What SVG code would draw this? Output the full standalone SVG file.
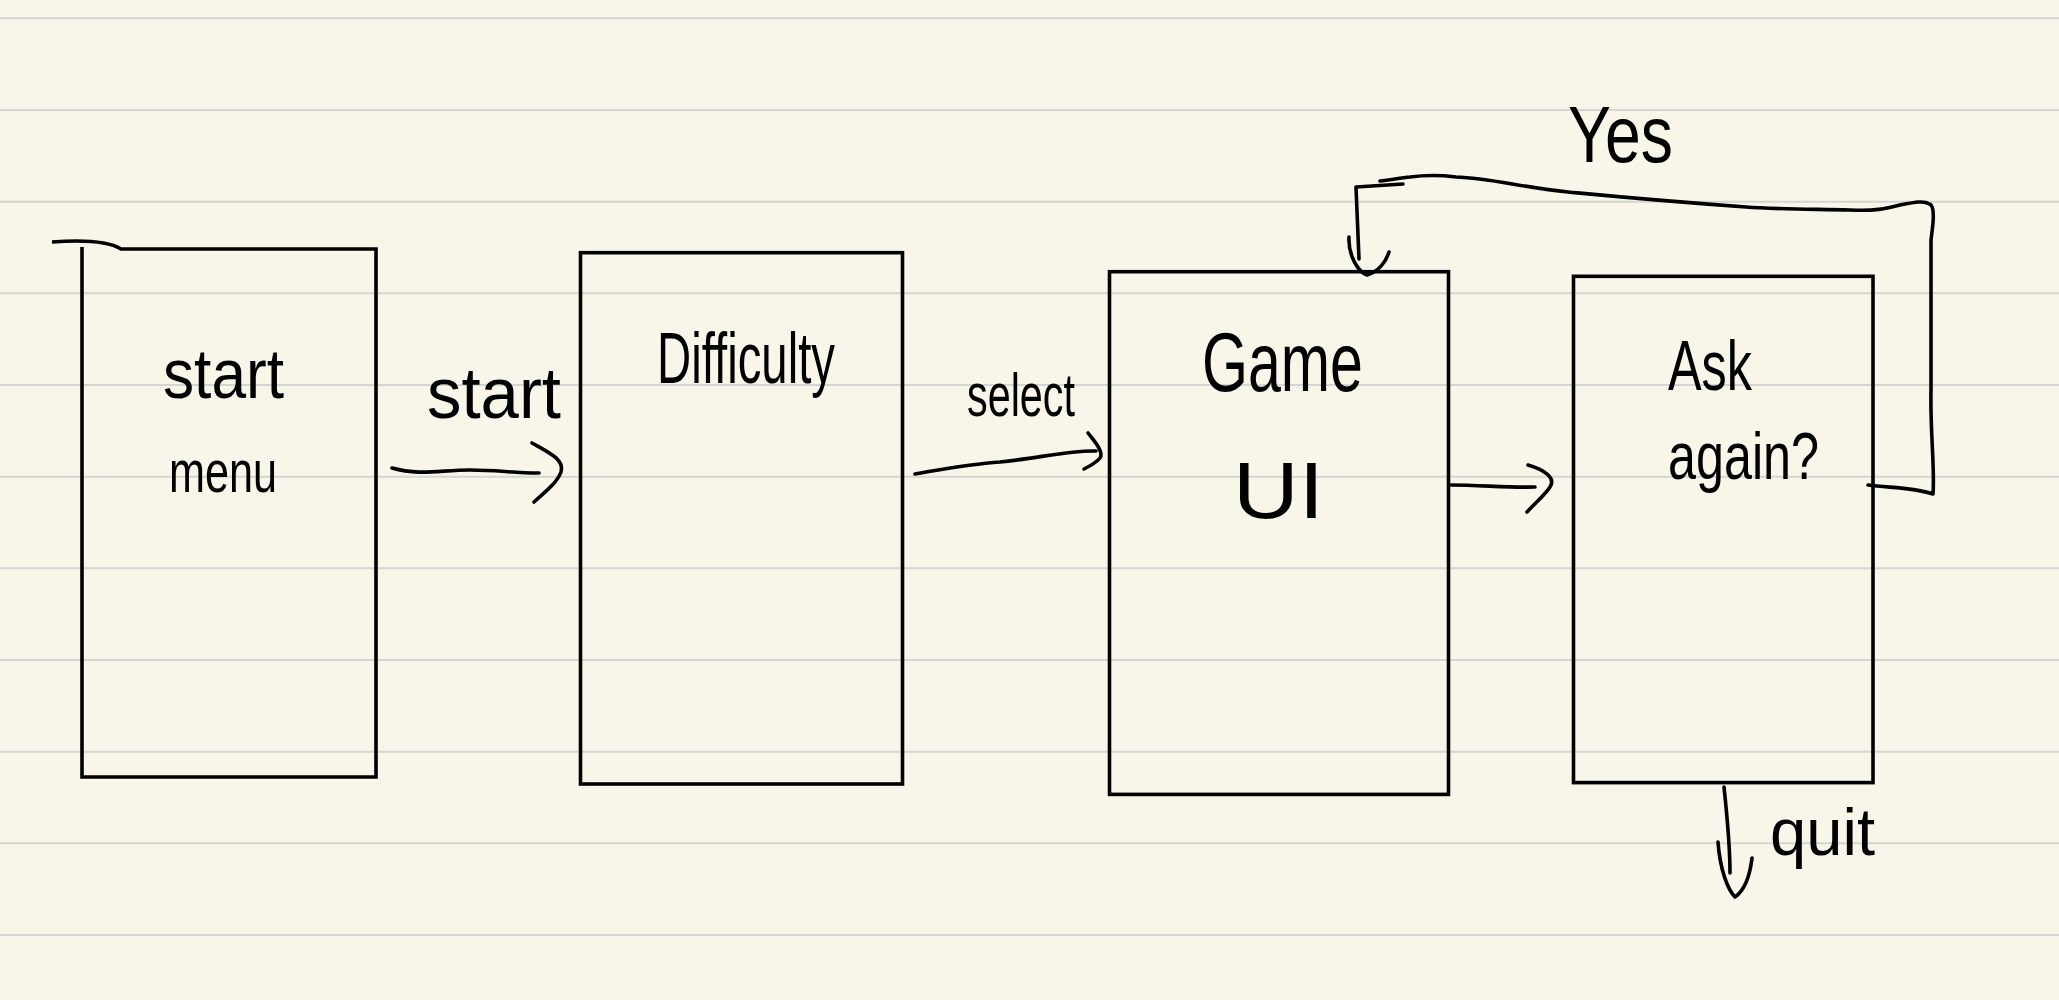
<svg xmlns="http://www.w3.org/2000/svg" width="2059" height="1000" viewBox="0 0 2059 1000">
<defs>
<style>
.rule{stroke:#d5d5d1;stroke-width:2}
.box{fill:none;stroke:#000;stroke-width:3.6;stroke-linejoin:miter}
.ink{fill:none;stroke:#000;stroke-width:3.6;stroke-linecap:round;stroke-linejoin:round}
.t{font-family:"Liberation Sans","DejaVu Sans",sans-serif;fill:#000;font-weight:normal}
</style>
</defs>
<rect x="0" y="0" width="2059" height="1000" fill="#f8f6e9"/>
<g id="paper-lines">
<line class="rule" x1="0" y1="18.3" x2="2059" y2="18.3"/>
<line class="rule" x1="0" y1="110" x2="2059" y2="110"/>
<line class="rule" x1="0" y1="201.7" x2="2059" y2="201.7"/>
<line class="rule" x1="0" y1="293.3" x2="2059" y2="293.3"/>
<line class="rule" x1="0" y1="385" x2="2059" y2="385"/>
<line class="rule" x1="0" y1="476.7" x2="2059" y2="476.7"/>
<line class="rule" x1="0" y1="568.3" x2="2059" y2="568.3"/>
<line class="rule" x1="0" y1="660" x2="2059" y2="660"/>
<line class="rule" x1="0" y1="751.7" x2="2059" y2="751.7"/>
<line class="rule" x1="0" y1="843.3" x2="2059" y2="843.3"/>
<line class="rule" x1="0" y1="935" x2="2059" y2="935"/>
</g>
<g id="node-start-menu">
<path class="box" d="M82,247 L82,777 L376,777 L376,249 L121,249 C108,241 80,240 52,242"/>
<text class="t" x="163" y="398" font-size="70" textLength="121" lengthAdjust="spacingAndGlyphs">start</text>
<text class="t" x="169" y="492" font-size="60" textLength="108" lengthAdjust="spacingAndGlyphs">menu</text>
</g>
<g id="node-difficulty">
<rect class="box" x="580.5" y="252.7" width="322" height="531.3"/>
<text class="t" x="657" y="383" font-size="72" textLength="178" lengthAdjust="spacingAndGlyphs">Difficulty</text>
</g>
<g id="node-game-ui">
<rect class="box" x="1109.5" y="271.7" width="339" height="522.7"/>
<text class="t" x="1202" y="391" font-size="84" textLength="161" lengthAdjust="spacingAndGlyphs">Game</text>
<text class="t" x="1233" y="518" font-size="80" textLength="91" lengthAdjust="spacingAndGlyphs">UI</text>
</g>
<g id="node-ask-again">
<rect class="box" x="1573.5" y="276.3" width="299.5" height="506.3"/>
<text class="t" x="1668" y="390" font-size="70" textLength="84" lengthAdjust="spacingAndGlyphs">Ask</text>
<text class="t" x="1668" y="479" font-size="66" textLength="151" lengthAdjust="spacingAndGlyphs">again?</text>
</g>
<g id="connectors">
<path class="ink" d="M392,468 C420,476 440,470 470,470 C500,470 510,473 539,473"/>
<path class="ink" d="M532,443 C550,453 565,460 561,472 C557,483 545,492 534,502"/>
<text class="t" x="427" y="418" font-size="72" textLength="134" lengthAdjust="spacingAndGlyphs">start</text>
<path class="ink" d="M915,474 C950,468 970,464 1000,462 C1040,458 1070,450 1096,451"/>
<path class="ink" d="M1088,433 C1095,442 1104,452 1100,458 C1096,463 1090,466 1084,469"/>
<text class="t" x="967" y="416" font-size="62" textLength="108" lengthAdjust="spacingAndGlyphs">select</text>
<path class="ink" d="M1451,485 C1480,485 1510,488 1535,487"/>
<path class="ink" d="M1528,465 C1545,470 1556,478 1550,487 C1545,495 1535,503 1527,512"/>
<path class="ink" d="M1868,485 C1890,488 1912,487 1933,494 C1935,470 1930,430 1931,390 L1931,240 C1933,225 1935,210 1931,205 C1925,200 1915,202 1900,205 C1885,209 1875,211 1850,210 C1800,209 1770,209 1746,207 C1650,200 1610,196 1568,192 C1520,187 1490,178 1456,177 C1440,175 1425,175 1410,177 C1400,178 1390,180 1380,181"/>
<path class="ink" d="M1403,184 L1356,187 L1359,259"/>
<path class="ink" d="M1349,237 C1348,255 1358,272 1367,275 C1378,272 1386,262 1389,252"/>
<text class="t" x="1568" y="162" font-size="80" textLength="105" lengthAdjust="spacingAndGlyphs">Yes</text>
<path class="ink" d="M1724,787 C1727,815 1730,845 1730,873"/>
<path class="ink" d="M1718,842 C1720,870 1728,890 1735,897 C1745,890 1750,875 1752,858"/>
<text class="t" x="1770" y="855" font-size="66" textLength="105" lengthAdjust="spacingAndGlyphs">quit</text>
</g>
</svg>
